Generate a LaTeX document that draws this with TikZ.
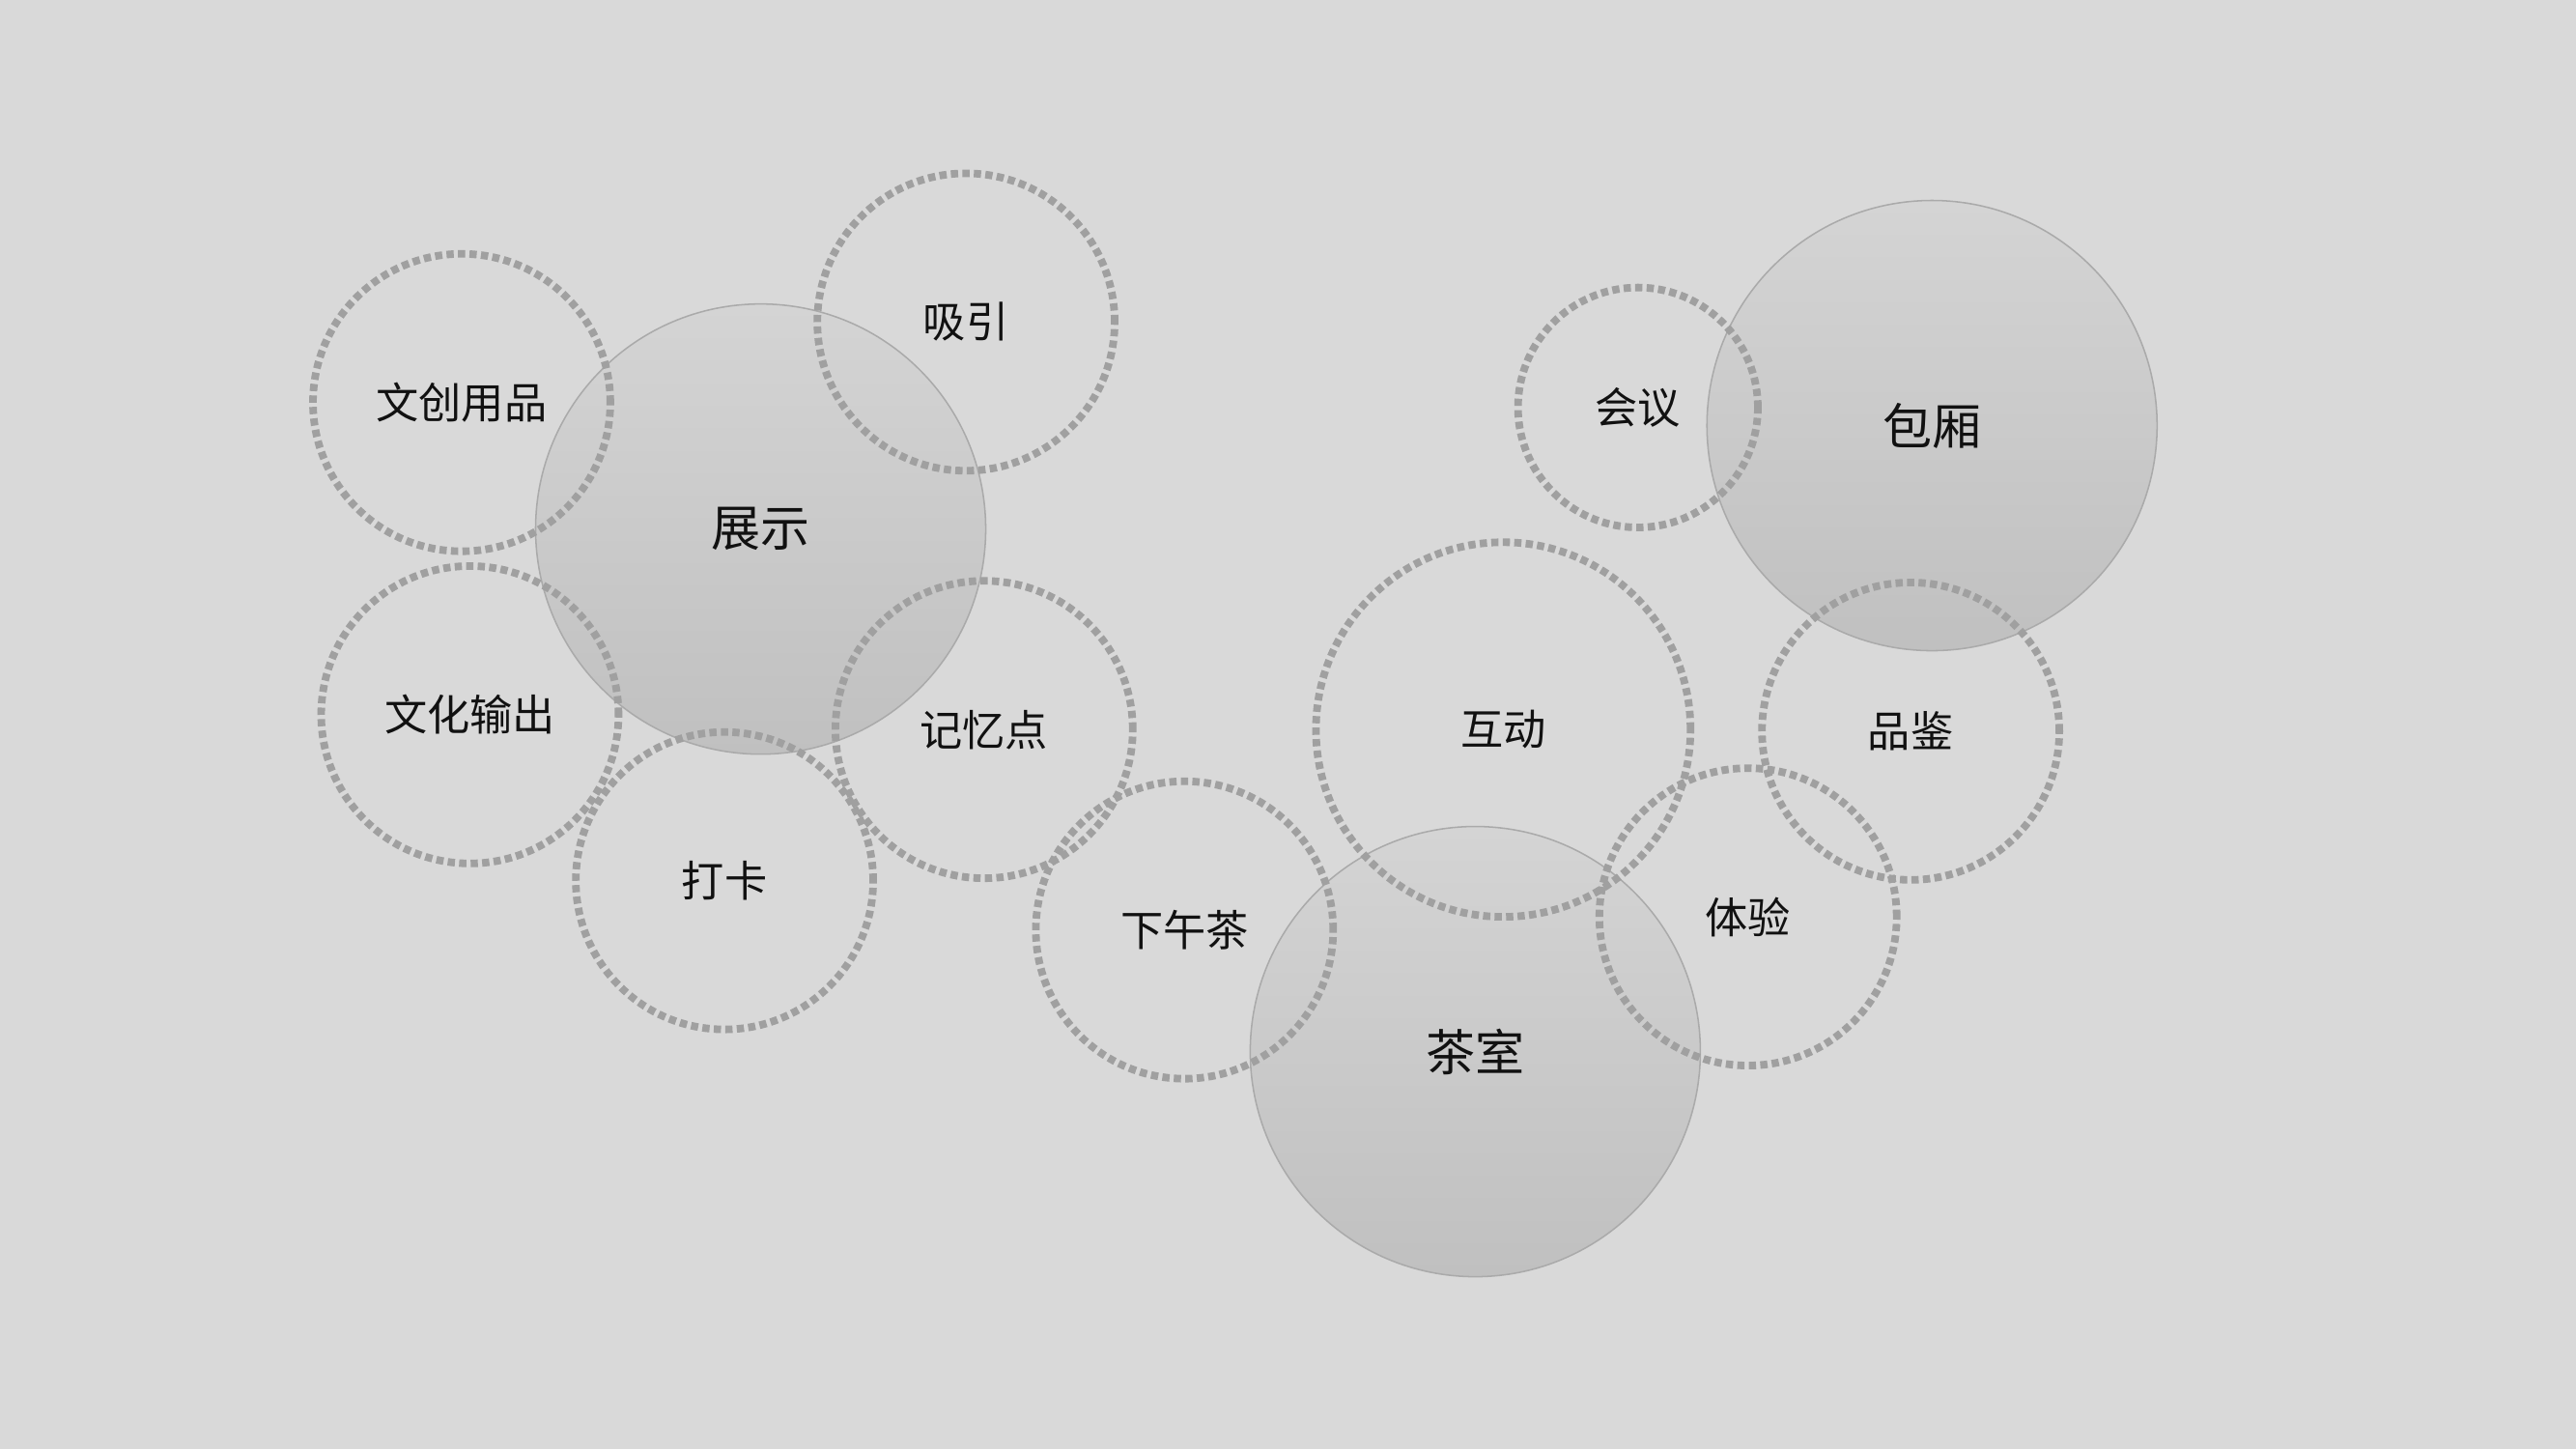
\documentclass[tikz,border=0pt]{standalone}
\usepackage{fontspec}
\newfontfamily\cjk{Noto Sans CJK SC}
\definecolor{bgc}{HTML}{D9D9D9}
\definecolor{dashc}{HTML}{A0A0A0}
\definecolor{bigtop}{HTML}{D4D4D4}
\definecolor{bigbot}{HTML}{C0C0C0}
\definecolor{bigedge}{HTML}{AAAAAA}
\definecolor{txt}{HTML}{111111}
\tikzset{
  bigc/.style={circle, inner sep=0pt, minimum size=137pt, draw=bigedge, line width=0.45pt,
     top color=bigtop, bottom color=bigbot, font=\cjk\fontsize{15}{15}\selectfont, text=txt},
  dashc/.style={circle, inner sep=0pt, minimum size=#1, draw=dashc, line width=2.3pt,
     dash pattern=on 2.2pt off 1.3pt},
  lbl/.style={font=\cjk\fontsize{13}{13}\selectfont, text=txt, inner sep=0pt}
}
\begin{document}
\begin{tikzpicture}[x=0.5pt,y=-0.5pt]
\fill[bgc] (0,0) rectangle (1568,882);
\useasboundingbox (0,0) rectangle (1568,882);
% big circles
\node[bigc] (zs) at (463,322) {展示};
\node[bigc] (bx) at (1176,259) {包厢};
\node[bigc] (cs) at (898,640) {茶室};
% dashed circles
\node[dashc=90.5pt] (wc) at (281,245) {};
\node[dashc=90.5pt] (xy) at (588,196) {};
\node[dashc=90.5pt] (wh) at (286,435) {};
\node[dashc=90.5pt] (jy) at (599,444) {};
\node[dashc=90.5pt] (dk) at (441,536) {};
\node[dashc=90.5pt] (xw) at (721,566) {};
\node[dashc=114pt] (hd) at (915,444) {};
\node[dashc=73pt] (hy) at (997,248) {};
\node[dashc=90.5pt] (pj) at (1163,445) {};
\node[dashc=90.5pt] (ty) at (1064,558) {};
% labels
\node[lbl] at (wc) {文创用品};
\node[lbl] at (xy) {吸引};
\node[lbl] at (wh) {文化输出};
\node[lbl] at (jy) {记忆点};
\node[lbl] at (dk) {打卡};
\node[lbl] at (xw) {下午茶};
\node[lbl] at (hd) {互动};
\node[lbl] at (hy) {会议};
\node[lbl] at (pj) {品鉴};
\node[lbl] at (ty) {体验};
\end{tikzpicture}
\end{document}
